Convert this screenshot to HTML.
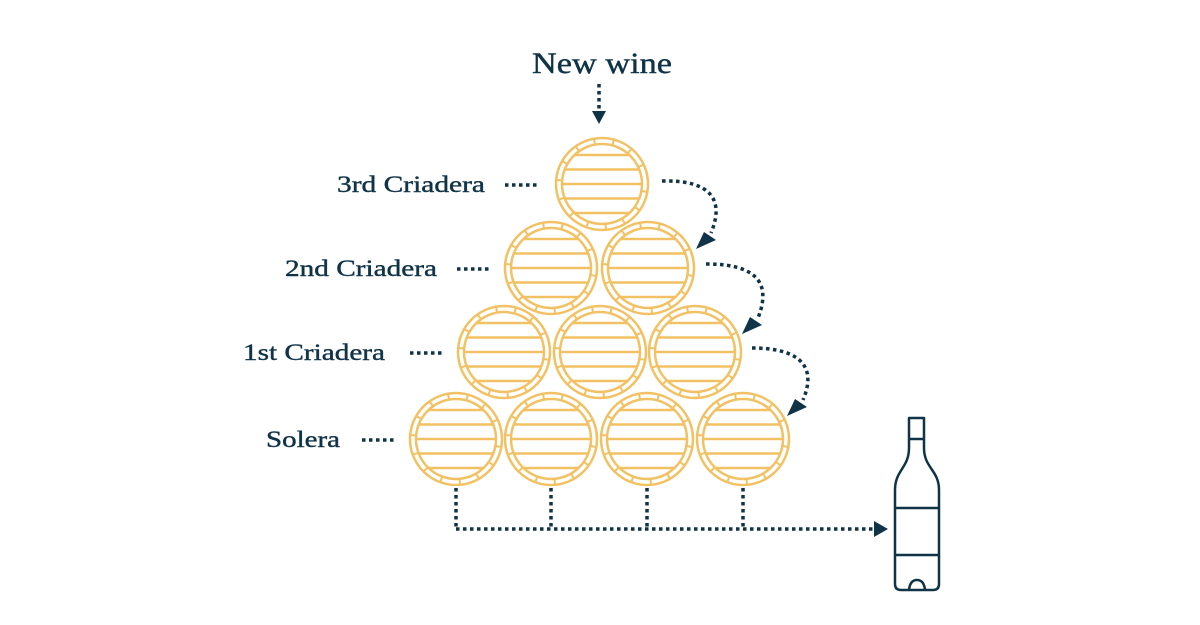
<!DOCTYPE html>
<html><head><style>
body{margin:0;background:#fff;}
svg{display:block;}
text{font-family:"Liberation Serif",serif;fill:#0f3347;stroke:#0f3347;stroke-width:0.4;}
</style></head><body>
<svg width="1200" height="625" viewBox="0 0 1200 625">
<defs>
<g id="b" fill="none" stroke="#f2c163" stroke-width="2.5">
<circle r="46"/><circle r="40"/>
<g stroke-width="2">
<line x1="40" y1="0" x2="46" y2="0" transform="rotate(10)"/>
<line x1="40" y1="0" x2="46" y2="0" transform="rotate(35)"/>
<line x1="40" y1="0" x2="46" y2="0" transform="rotate(60)"/>
<line x1="40" y1="0" x2="46" y2="0" transform="rotate(85)"/>
<line x1="40" y1="0" x2="46" y2="0" transform="rotate(110)"/>
<line x1="40" y1="0" x2="46" y2="0" transform="rotate(135)"/>
<line x1="40" y1="0" x2="46" y2="0" transform="rotate(160)"/>
<line x1="40" y1="0" x2="46" y2="0" transform="rotate(185)"/>
<line x1="40" y1="0" x2="46" y2="0" transform="rotate(210)"/>
<line x1="40" y1="0" x2="46" y2="0" transform="rotate(235)"/>
<line x1="40" y1="0" x2="46" y2="0" transform="rotate(260)"/>
<line x1="40" y1="0" x2="46" y2="0" transform="rotate(285)"/>
<line x1="40" y1="0" x2="46" y2="0" transform="rotate(310)"/>
<line x1="40" y1="0" x2="46" y2="0" transform="rotate(335)"/>
</g>
<line x1="-27.5" y1="-29" x2="27.5" y2="-29"/>
<line x1="-37.3" y1="-14.5" x2="37.3" y2="-14.5"/>
<line x1="-40" y1="0" x2="40" y2="0"/>
<line x1="-37.3" y1="14.5" x2="37.3" y2="14.5"/>
<line x1="-27.5" y1="29" x2="27.5" y2="29"/>
</g>
</defs>
<text x="532" y="73" font-size="30" textLength="140" lengthAdjust="spacingAndGlyphs">New wine</text>
<text x="337" y="192" font-size="23" textLength="148" lengthAdjust="spacingAndGlyphs">3rd Criadera</text>
<text x="285" y="276" font-size="23" textLength="152" lengthAdjust="spacingAndGlyphs">2nd Criadera</text>
<text x="243" y="360" font-size="23" textLength="142" lengthAdjust="spacingAndGlyphs">1st Criadera</text>
<text x="266" y="447" font-size="23" textLength="74" lengthAdjust="spacingAndGlyphs">Solera</text>

<use href="#b" x="602" y="184"/>
<use href="#b" x="551" y="268"/><use href="#b" x="648" y="268"/>
<use href="#b" x="504" y="352"/><use href="#b" x="600" y="352"/><use href="#b" x="695" y="352"/>
<use href="#b" x="456" y="439"/><use href="#b" x="551" y="439"/><use href="#b" x="647" y="439"/><use href="#b" x="743" y="439"/>

<g fill="none" stroke="#0f3347" stroke-width="3.5" stroke-dasharray="3.5 3.5">
<line x1="599" y1="84" x2="599" y2="112"/>
<line x1="505" y1="185" x2="540" y2="185"/>
<line x1="457" y1="269" x2="492" y2="269"/>
<line x1="410" y1="353" x2="445" y2="353"/>
<line x1="362" y1="440" x2="397" y2="440"/>
<path d="M662,181 C700,180 728,192 711,233"/>
<path d="M706,264 C745,264 775,275 758,318"/>
<path d="M752,348 C790,348 820,360 803,400"/>
<line x1="456" y1="488" x2="456" y2="528"/>
<line x1="551" y1="488" x2="551" y2="528"/>
<line x1="647" y1="488" x2="647" y2="528"/>
<line x1="743" y1="488" x2="743" y2="528"/>
<line x1="456" y1="529" x2="876" y2="529"/>
</g>
<g fill="#0f3347">
<polygon points="592,111 606,111 599,124"/>
<polygon points="704,232 716,240 696,249"/>
<polygon points="750,317 762,325 742,334"/>
<polygon points="795,399 807,407 787,416"/>
<polygon points="874,521 874,537 888,529"/>
</g>
<g fill="none" stroke="#0f3347" stroke-width="2.5" stroke-linejoin="round">
<path d="M909,418 H924 V448 C924,468 939,470 939,490 V584 Q939,590 933,590 H901 Q895,590 895,584 V490 C895,470 909,468 909,448 Z"/>
<line x1="909" y1="439" x2="924" y2="439"/>
<line x1="895" y1="508" x2="939" y2="508"/>
<line x1="895" y1="555" x2="939" y2="555"/>
<path d="M909,590 Q910,580 917,580 Q924,580 925,590"/>
</g>
</svg>
</body></html>
